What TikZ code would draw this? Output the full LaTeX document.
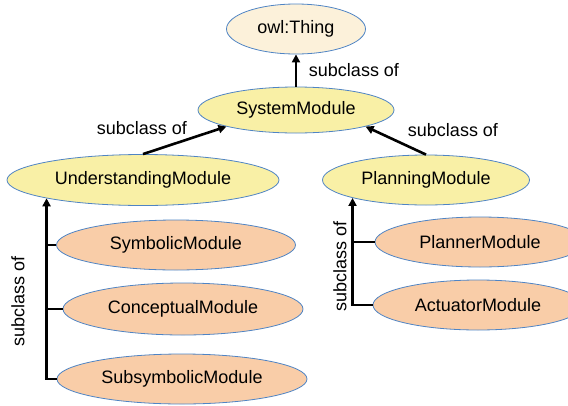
\documentclass[tikz,border=0pt]{standalone}
\usepackage{fontspec}
\setmainfont{Liberation Sans}
\usetikzlibrary{shapes.geometric,arrows.meta}
\definecolor{thingfill}{HTML}{FCF1DA}
\definecolor{modfill}{HTML}{F9F0A6}
\definecolor{subfill}{HTML}{F9CDA8}
\definecolor{rimblue}{HTML}{4F84C4}
\begin{document}
\begin{tikzpicture}[x=1pt,y=1pt]
\tikzstyle{every node}+=[inner sep=0pt, font=\fontsize{18}{21}\selectfont]
\tikzstyle{cls}=[ellipse, draw=rimblue, line width=0.8pt, minimum height=50pt]
\tikzstyle{isa}=[black, line width=2.6pt, -{Triangle[length=8pt,width=8pt]}]
\tikzstyle{branch}=[black, line width=2.6pt]
\useasboundingbox (0,0) rectangle (568,-405);
% classes
\node [cls, fill=thingfill, minimum width=139pt] (thing) at (296,-29) {owl:Thing};
\node [cls, fill=modfill, minimum width=196pt, minimum height=46pt] (sys) at (296,-110) {SystemModule};
\node [cls, fill=modfill, minimum width=272pt, minimum height=51pt] (under) at (143,-180) {UnderstandingModule};
\node [cls, fill=modfill, minimum width=207pt] (plan) at (426,-180) {PlanningModule};
\node [cls, fill=subfill, minimum width=239pt] (symb) at (176,-245) {SymbolicModule};
\node [cls, fill=subfill, minimum width=240pt, minimum height=52pt] (conc) at (183,-309) {ConceptualModule};
\node [cls, fill=subfill, minimum width=250pt] (subsym) at (182,-379) {SubsymbolicModule};
\node [cls, fill=subfill, minimum width=210pt] (planner) at (480,-242) {PlannerModule};
\node [cls, fill=subfill, minimum width=210pt] (act) at (478,-305) {ActuatorModule};
% labels
\node (lbltop) at (354,-70) {subclass of};
\node (lblleft) at (142,-128) {subclass of};
\node (lblright) at (453,-130) {subclass of};
\node [rotate=90] (lblunder) at (18,-301) {subclass of};
\node [rotate=90] (lblplan) at (340,-266) {subclass of};
% subclass links
\draw [isa] (sys.north) -- (thing.south);
\draw [isa] (under.north) -- (sys.south west);
\draw [isa] (plan.north) -- (sys.south east);
\draw [isa] (subsym.west) -| (under.south west);
\draw [branch] (symb.west) -- (symb.west -| under.south west);
\draw [branch] (conc.west) -- (conc.west -| under.south west);
\draw [isa] (act.west) -| (plan.south west);
\draw [branch] (planner.west) -- (planner.west -| plan.south west);
\end{tikzpicture}
\end{document}
